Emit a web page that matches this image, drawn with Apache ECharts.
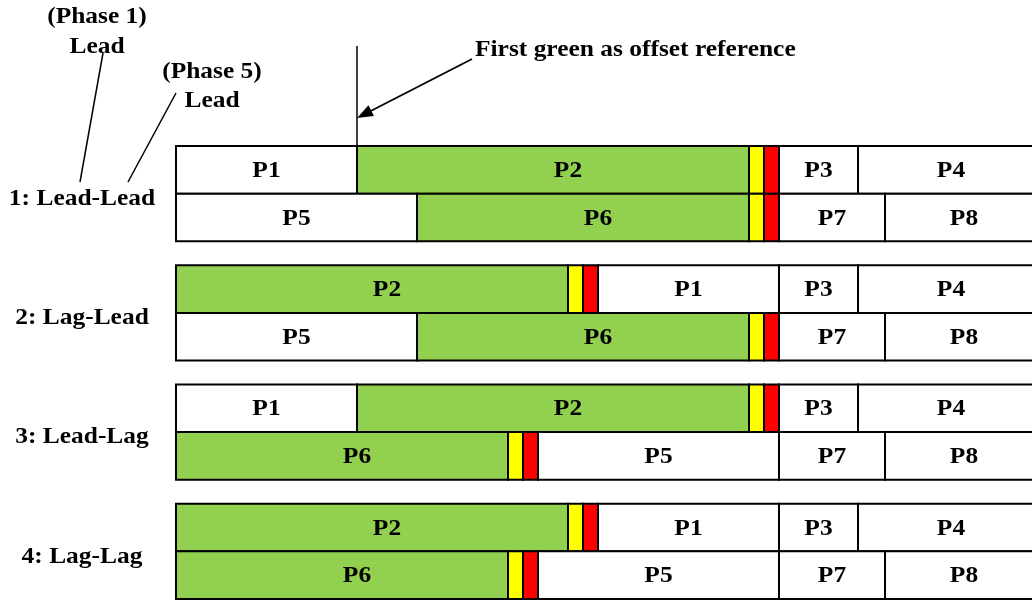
<!DOCTYPE html>
<html><head><meta charset="utf-8">
<script src="https://cdn.jsdelivr.net/npm/echarts@6/dist/echarts.min.js"></script>
<style>html,body{margin:0;padding:0;background:#fff}#c{width:1032px;height:600px}</style>
</head><body><div id="c"></div>
<script>
// ---- data ----
const scenarioLabels = ['1: Lead-Lead', '2: Lag-Lead', '3: Lead-Lag', '4: Lag-Lag'];
const phaseNames = ['P1', 'P2', 'P3', 'P4', 'P5', 'P6', 'P7', 'P8'];
const phaseTimes = [36.2, 78.4, 15.8, 37.2, 48.2, 66.4, 21.2, 31.6];
const greenPhases = ['P2', 'P6'];
const yellowTime = 3;
const redTime = 3;
const ring1Lead = ['P1', 'P2', 'P3', 'P4'];
const ring1Lag = ['P2', 'P1', 'P3', 'P4'];
const ring2Lead = ['P5', 'P6', 'P7', 'P8'];
const ring2Lag = ['P6', 'P5', 'P7', 'P8'];
const scenarioRings = [[ring1Lead, ring2Lead], [ring1Lag, ring2Lead], [ring1Lead, ring2Lag], [ring1Lag, ring2Lag]];
const axisMax = 171.2;
const scenarioPitch = 2.5;
const annotationText = 'First green as offset reference';

// ---- build segments: [start, end, row, labelStart, labelEnd] ----
const segData = [], segKind = [], segLabel = [];
scenarioRings.forEach((rings, s) => {
  rings.forEach((ring, r) => {
    const row = s * scenarioPitch + r;
    let t = 0;
    ring.forEach(p => {
      const d = phaseTimes[phaseNames.indexOf(p)];
      const green = greenPhases.includes(p);
      const full = green ? d + yellowTime + redTime : d;
      segData.push([t, t + d, row, t, t + full]); segKind.push(green ? 'g' : 'w'); segLabel.push(p);
      t += d;
      if (green) {
        segData.push([t, t + yellowTime, row, t, t]); segKind.push('y'); segLabel.push('');
        t += yellowTime;
        segData.push([t, t + redTime, row, t, t]); segKind.push('r'); segLabel.push('');
        t += redTime;
      }
    });
  });
});
const fills = { g: '#92D050', w: '#ffffff', y: '#FFFF00', r: '#FF0000' };
const FONT = '"Liberation Serif","Times New Roman",serif';
const FS = 24, SX = 1.06;

const chart = echarts.init(document.getElementById('c'));
chart.setOption({
  animation: false,
  grid: { left: 176, right: 0, top: 146, bottom: 1 },
  xAxis: { type: 'value', min: 0, max: axisMax, show: false },
  yAxis: { type: 'value', min: 0, max: 9.5, inverse: true, show: false },
  series: [{
    type: 'custom',
    clip: false,
    data: segData,
    renderItem: (params, api) => {
      const i = params.dataIndex;
      const p0 = api.coord([api.value(0), api.value(2)]);
      const p1 = api.coord([api.value(1), api.value(2) + 1]);
      const children = [{
        type: 'rect',
        shape: { x: p0[0], y: p0[1], width: p1[0] - p0[0], height: p1[1] - p0[1] },
        style: { fill: fills[segKind[i]], stroke: '#000', lineWidth: 2 }
      }];
      if (segLabel[i]) {
        const c = api.coord([(api.value(3) + api.value(4)) / 2, api.value(2) + 0.5]);
        children.push({ type: 'text', x: c[0], y: c[1] + 1, scaleX: SX, z2: 10,
          style: { text: segLabel[i], fontFamily: FONT, fontWeight: 'bold', fontSize: FS, fill: '#000', align: 'center', verticalAlign: 'middle' } });
      }
      return { type: 'group', children };
    }
  }, {
    type: 'custom',
    clip: false,
    z: 3,
    data: scenarioLabels.map((l, s) => [0, s * scenarioPitch + 1]),
    renderItem: (params, api) => {
      const p = api.coord([api.value(0), api.value(1)]);
      return {
        type: 'text', x: p[0] - 94, y: p[1] + 5, scaleX: SX,
        style: { text: scenarioLabels[params.dataIndex], fontFamily: FONT, fontWeight: 'bold', fontSize: FS, fill: '#000', align: 'center', verticalAlign: 'middle' }
      };
    }
  }]
});

// annotations
const ref = chart.convertToPixel({ gridIndex: 0 }, [phaseTimes[0], 0]);
const vx = Math.round(ref[0]);
const tip = [vx, 118], tail = [472, 59];
const dx = tip[0] - tail[0], dy = tip[1] - tail[1], L = Math.hypot(dx, dy);
const ux = dx / L, uy = dy / L, nx = -uy, ny = ux;
const bc = [tip[0] - 16 * ux, tip[1] - 16 * uy];
const txt = (x, y, text, align) => ({ type: 'text', x, y, scaleX: SX, style: { text, fontFamily: FONT, fontWeight: 'bold', fontSize: FS, fill: '#000', align: align || 'center', verticalAlign: 'middle' } });
chart.setOption({
  graphic: [
    { type: 'line', shape: { x1: vx, y1: 46, x2: vx, y2: ref[1] }, style: { stroke: '#000', lineWidth: 1.5 } },
    { type: 'line', shape: { x1: tail[0], y1: tail[1], x2: bc[0], y2: bc[1] }, style: { stroke: '#000', lineWidth: 1.8 } },
    { type: 'polygon', shape: { points: [tip, [bc[0] + 6 * nx, bc[1] + 6 * ny], [bc[0] - 6 * nx, bc[1] - 6 * ny]] }, style: { fill: '#000' } },
    txt(475, 50, annotationText, 'left'),
    txt(97, 17, '(Phase 1)'),
    txt(97, 47, 'Lead'),
    txt(212, 72, '(Phase 5)'),
    txt(212, 101, 'Lead'),
    { type: 'line', shape: { x1: 103, y1: 53, x2: 80, y2: 182 }, style: { stroke: '#000', lineWidth: 1.5 } },
    { type: 'line', shape: { x1: 176, y1: 93, x2: 128, y2: 182 }, style: { stroke: '#000', lineWidth: 1.5 } }
  ]
});
</script></body></html>
